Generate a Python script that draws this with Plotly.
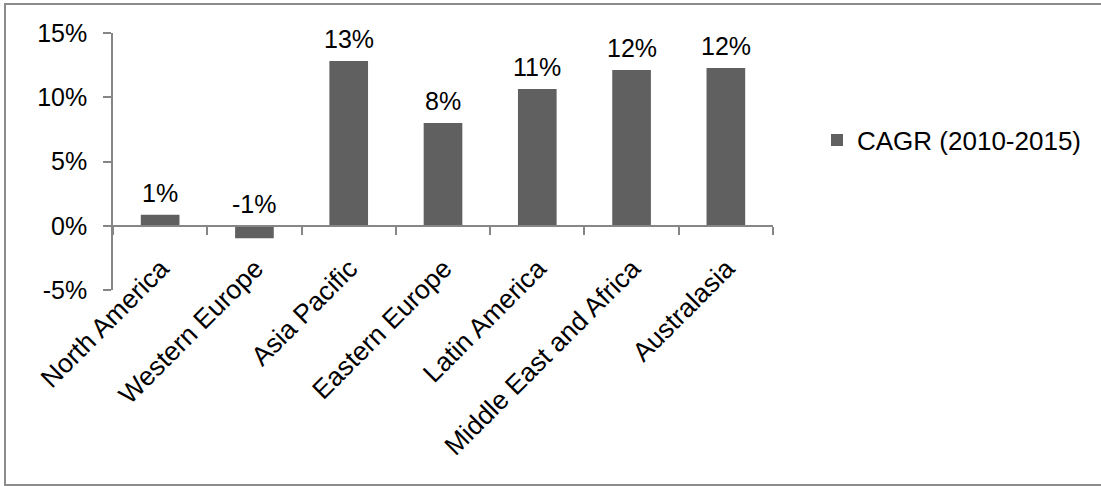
import plotly.graph_objects as go

# Regional compound annual growth rate, 2010-2015 (percent)
regions = ["North America", "Western Europe", "Asia Pacific", "Eastern Europe",
           "Latin America", "Middle East and Africa", "Australasia"]
cagr = [0.85, -0.98, 12.82, 8.0, 10.64, 12.12, 12.28]
series_name = "CAGR (2010-2015)"
y_tick_vals = [-5, 0, 5, 10, 15]
y_tick_text = ["-5%", "0%", "5%", "10%", "15%"]

# Canvas and plot-area geometry (pixels)
W, H = 1101, 486
L, R, T, B = 113, 328, 33, 196
PW, PH = W - L - R, H - T - B
Y_MIN, Y_MAX = -5, 15

AXIS_GREY = "#868686"
BAR_GREY = "#606060"
FONT = "Liberation Sans, Arial, sans-serif"
FS = 25


def px_to_paper_x(px):
    return (px - L) / PW


def px_to_paper_y(py):
    return (H - B - py) / PH


fig = go.Figure()
fig.add_trace(go.Bar(
    x=regions, y=cagr, name=series_name,
    marker=dict(color=BAR_GREY, line=dict(width=0)),
    showlegend=True,
))

# Value labels sit above the bar top (or above the zero line for negatives)
for r, v in zip(regions, cagr):
    fig.add_annotation(
        x=r, y=max(v, 0), text=f"{v:.0f}%", showarrow=False,
        yanchor="bottom", yshift=6,
        font=dict(family=FONT, size=FS, color="#000000"),
    )

# Thin frame around the whole chart
fig.add_shape(
    type="rect", xref="paper", yref="paper",
    x0=px_to_paper_x(5), x1=px_to_paper_x(W + 10),
    y0=px_to_paper_y(485), y1=px_to_paper_y(4),
    line=dict(color="#8c8c8c", width=2), fillcolor="rgba(0,0,0,0)",
    layer="below",
)

fig.update_layout(
    width=W, height=H,
    margin=dict(l=L, r=R, t=T, b=B, pad=0),
    paper_bgcolor="white", plot_bgcolor="white",
    font=dict(family=FONT, size=FS, color="#000000"),
    bargap=0.59,
    showlegend=True,
    legend=dict(
        x=px_to_paper_x(817), xanchor="left",
        y=px_to_paper_y(140), yanchor="middle",
        font=dict(family=FONT, size=26, color="#000000"),
        bgcolor="rgba(0,0,0,0)", borderwidth=0,
    ),
    xaxis=dict(
        range=[-0.5, len(regions) - 0.5],
        anchor="free", position=(0 - Y_MIN) / (Y_MAX - Y_MIN),
        showline=True, linecolor=AXIS_GREY, linewidth=1.5,
        ticks="outside", ticklen=8, tickcolor=AXIS_GREY, tickwidth=1.5,
        tickson="boundaries", tickangle=-45,
        ticklabelstandoff=16, ticklabelshift=1,
        showgrid=False, zeroline=False,
        tickfont=dict(family=FONT, size=26.5, color="#000000"),
    ),
    yaxis=dict(
        range=[Y_MIN, Y_MAX],
        tickvals=y_tick_vals, ticktext=y_tick_text,
        showline=True, linecolor=AXIS_GREY, linewidth=1.5,
        ticks="outside", ticklen=8, tickcolor=AXIS_GREY, tickwidth=1.5,
        ticklabelstandoff=11,
        showgrid=False, zeroline=False,
        tickfont=dict(family=FONT, size=FS, color="#000000"),
    ),
)

fig.write_html("out.html")
